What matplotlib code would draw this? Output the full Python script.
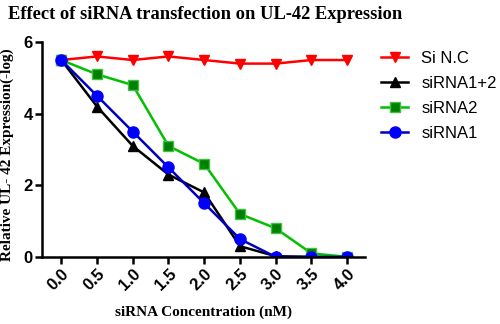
import matplotlib
matplotlib.use("Agg")
import matplotlib.pyplot as plt

conc = [0.0, 0.5, 1.0, 1.5, 2.0, 2.5, 3.0, 3.5, 4.0]
tick_labels = ["0.0", "0.5", "1.0", "1.5", "2.0", "2.5", "3.0", "3.5", "4.0"]
si_nc = [5.5, 5.6, 5.5, 5.6, 5.5, 5.4, 5.4, 5.5, 5.5]
sirna12 = [5.5, 4.2, 3.1, 2.3, 1.8, 0.3, 0.02, 0.0, 0.0]
sirna2 = [5.5, 5.1, 4.8, 3.1, 2.6, 1.2, 0.8, 0.1, 0.0]
sirna1 = [5.5, 4.5, 3.5, 2.5, 1.5, 0.5, 0.0, 0.0, 0.0]

fig = plt.figure(figsize=(5.0, 3.24), dpi=100)
ax = fig.add_axes([0.084, 0.207, 0.646, 0.663])

ax.plot(conc, si_nc, color="#ff0000", marker="v", ms=7, lw=1.8, label="Si N.C")
ax.plot(conc, sirna12, color="#000000", marker="^", ms=7, lw=1.8, label="siRNA1+2")
ax.plot(conc, sirna2, color="#00c000", marker="s", ms=7, lw=1.8, label="siRNA2",
        markerfacecolor="#008000", markeredgecolor="#40c040")
ax.plot(conc, sirna1, color="#0000c0", marker="o", ms=8, lw=1.8, label="siRNA1",
        markerfacecolor="#0000ff", markeredgecolor="#0000ff")

ax.set_xlim(-0.27, 4.25)
ax.set_ylim(0, 6)
ax.set_yticks([0, 2, 4, 6])
ax.set_xticks(conc)
ax.set_xticklabels(tick_labels, rotation=45, ha="right", rotation_mode="anchor")
for lab in ax.get_xticklabels() + ax.get_yticklabels():
    lab.set_fontfamily("Liberation Sans")
    lab.set_fontweight("bold")
    lab.set_fontsize(12)

ax.spines["top"].set_visible(False)
ax.spines["right"].set_visible(False)
ax.spines["left"].set_linewidth(1.8)
ax.spines["bottom"].set_linewidth(1.8)
ax.tick_params(width=1.8, length=5, pad=1.5)

ax.set_xlabel("siRNA Concentration (nM)", fontfamily="Liberation Serif",
              fontweight="bold", fontsize=11)
ax.xaxis.set_label_coords(0.5, -0.228)
ax.set_ylabel("Relative UL- 42 Expression(-log)", fontfamily="Liberation Serif",
              fontweight="bold", fontsize=11)
ax.yaxis.set_label_coords(-0.088, 0.475)
fig.text(0.016, 0.955, "Effect of siRNA transfection on UL-42 Expression",
         fontfamily="Liberation Serif", fontweight="bold", fontsize=13.3,
         ha="left", va="center")

leg = ax.legend(loc="upper left", bbox_to_anchor=(1.03, 0.99), frameon=False,
                prop={"family": "Liberation Sans", "size": 12},
                handlelength=1.6, labelspacing=0.6, borderaxespad=0)

fig.savefig("out.png", dpi=100)
